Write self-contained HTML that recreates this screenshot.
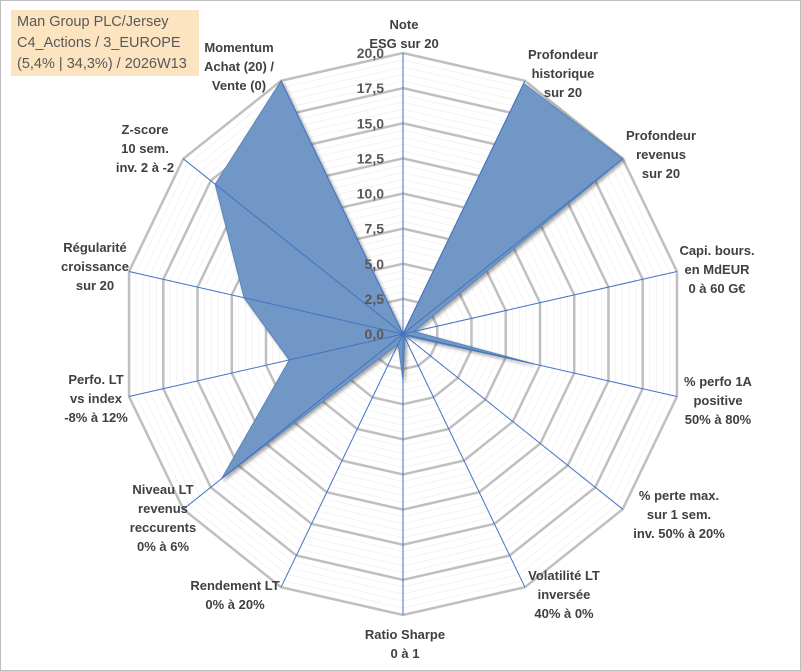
<!DOCTYPE html>
<html><head><meta charset="utf-8"><style>
body{margin:0;background:#fff}
#wrap{position:relative;width:799px;height:669px;border:1px solid #bdbdbd;overflow:hidden;font-family:"Liberation Sans",sans-serif}
.lbl{position:absolute;transform:translateX(-50%);text-align:center;font-weight:bold;font-size:13px;line-height:19px;color:#404040;white-space:nowrap}
#title{position:absolute;left:10px;top:9px;width:182px;height:64px;background:#fce4c0;color:#595959;font-size:14.5px;line-height:21px;padding:2px 0 0 6px}
</style></head><body>
<div id="wrap">
<svg id="radar" width="801" height="671" style="position:absolute;left:-1px;top:-1px">
<defs><filter id="sh" x="-10%" y="-10%" width="130%" height="130%"><feDropShadow dx="2" dy="2" stdDeviation="1.5" flood-color="#000" flood-opacity="0.35"/></filter></defs>
<g id="grid"></g><g id="series"></g><g id="axes"></g><g id="ticks"></g>
</svg>
<div id="title">Man Group PLC/Jersey<br>C4_Actions / 3_EUROPE<br>(5,4% | 34,3%) / 2026W13</div>
<div class="lbl" style="left:403px;top:14px">Note<br>ESG sur 20</div>
<div class="lbl" style="left:562px;top:44px">Profondeur<br>historique<br>sur 20</div>
<div class="lbl" style="left:660px;top:125px">Profondeur<br>revenus<br>sur 20</div>
<div class="lbl" style="left:716px;top:240px">Capi. bours.<br>en MdEUR<br>0 à 60 G€</div>
<div class="lbl" style="left:717px;top:371px">% perfo 1A<br>positive<br>50% à 80%</div>
<div class="lbl" style="left:678px;top:485px">% perte max.<br>sur 1 sem.<br>inv. 50% à 20%</div>
<div class="lbl" style="left:563px;top:565px">Volatilité LT<br>inversée<br>40% à 0%</div>
<div class="lbl" style="left:404px;top:624px">Ratio Sharpe<br>0 à 1</div>
<div class="lbl" style="left:234px;top:575px">Rendement LT<br>0% à 20%</div>
<div class="lbl" style="left:162px;top:479px">Niveau LT<br>revenus<br>reccurents<br>0% à 6%</div>
<div class="lbl" style="left:95px;top:369px">Perfo. LT<br>vs index<br>-8% à 12%</div>
<div class="lbl" style="left:94px;top:237px">Régularité<br>croissance<br>sur 20</div>
<div class="lbl" style="left:144px;top:119px">Z-score<br>10 sem.<br>inv. 2 à -2</div>
<div class="lbl" style="left:238px;top:37px">Momentum<br>Achat (20) /<br>Vente (0)</div>
</div>
<script>
const categories=["Note ESG","Profondeur historique","Profondeur revenus","Capi. bours.","% perfo 1A","% perte max.","Volatilité LT","Ratio Sharpe","Rendement LT","Niveau LT","Perfo. LT","Régularité","Z-score","Momentum"];
const values=[0,19.8,20,0.8,9.5,0.2,0.3,3.3,0.8,16.5,8.3,11.6,17.1,20];
const tickValues=[0,2.5,5,7.5,10,12.5,15,17.5,20];
const tickLabels=["0,0","2,5","5,0","7,5","10,0","12,5","15,0","17,5","20,0"];
const maxV=20;
const NS="http://www.w3.org/2000/svg";
const cx=403,cy=334,R=281,N=categories.length;
function ang(i){return -Math.PI/2+i*2*Math.PI/N;}
function pt(i,v){const r=v/maxV*R;return [cx+r*Math.cos(ang(i)),cy+r*Math.sin(ang(i))];}
function mk(tag,attrs,parent){const e=document.createElementNS(NS,tag);for(const k in attrs)e.setAttribute(k,attrs[k]);parent.appendChild(e);return e;}
const grid=document.getElementById('grid');
for(let s=0.5;s<=maxV+0.01;s+=0.5){
  const major=Math.abs(s/2.5-Math.round(s/2.5))<1e-6;
  const p=[];for(let i=0;i<N;i++)p.push(pt(i,s).join(','));
  const g=mk('polygon',{points:p.join(' '),fill:'none',stroke:major?'#bfbfbf':'#f3f3f3','stroke-width':major?2.5:1},grid);
  
  
}
const ser=document.getElementById('series');
const sp=values.map((v,i)=>pt(i,v).join(','));
const poly=mk('polygon',{points:sp.join(' '),fill:'#6f97c5',stroke:'#5b84b8','stroke-width':1,filter:'url(#sh)'},ser);


const ax=document.getElementById('axes');
for(let i=0;i<N;i++){const [x,y]=pt(i,maxV);
  const l=mk('line',{x1:cx,y1:cy,x2:x,y2:y,stroke:'#4472c4','stroke-width':1},ax);
  
  
}
const tk=document.getElementById('ticks');
tickValues.forEach((v,k)=>{const y=cy-v/maxV*R;
  const t=mk('text',{x:384,y:y+5,'text-anchor':'end','font-family':'Liberation Sans, sans-serif','font-size':'14','font-weight':'bold',fill:'#595959'},tk);
  t.textContent=tickLabels[k];
  
  
});
</script>
</body></html>
